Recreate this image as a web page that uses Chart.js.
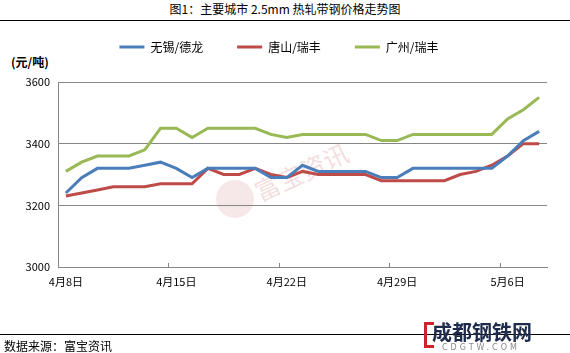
<!DOCTYPE html>
<html>
<head>
<meta charset="utf-8">
<script src="https://cdn.jsdelivr.net/npm/chart.js@4.4.1/dist/chart.umd.min.js"></script>
<style>
body { margin: 0; background: #fff; font-family: "Noto Sans CJK SC", sans-serif; }
#wrap { position: relative; width: 570px; height: 353px; overflow: hidden; background: #fff; }
#chart { position: absolute; left: 0; top: 0; }
.title { position: absolute; left: 0; top: 2px; width: 570px; text-align: center; font-size: 12px; line-height: 14px; color: #000; }
.rule { position: absolute; left: 0; width: 570px; height: 1px; background: #000; }
.unit { position: absolute; left: 11px; top: 54px; font-size: 12px; line-height: 16px; font-weight: bold; color: #000; }
.source { position: absolute; left: 4px; top: 338px; font-size: 12px; line-height: 16px; color: #000; }
.mark-circle { position: absolute; left: 216px; top: 180px; width: 38px; height: 38px; border-radius: 50%; background: rgba(214, 150, 150, 0.22); }
.mark-text { position: absolute; left: 246px; top: 156px; width: 110px; text-align: center; font-size: 25px; line-height: 30px; color: rgba(214, 140, 140, 0.3); transform: rotate(-25deg); }
.logo-bracket { position: absolute; left: 424px; top: 322px; width: 7px; height: 20px; border: 3px solid #d0202a; border-right: none; }
.logo-text { position: absolute; left: 432px; top: 320px; font-size: 20px; line-height: 24px; font-weight: bold; color: #1e2b4a; letter-spacing: 0; }
.logo-sub { position: absolute; left: 442px; top: 343px; font-size: 8px; line-height: 9px; color: #8a8a8a; letter-spacing: 3px; font-family: "DejaVu Sans", sans-serif; }
</style>
</head>
<body>
<div id="wrap">
  <div class="title">图1：主要城市 2.5mm 热轧带钢价格走势图</div>
  <div class="rule" style="top:20px"></div>
  <div class="unit">(元/吨)</div>
  <div class="mark-circle"></div>
  <div class="mark-text">富宝资讯</div>
  <canvas id="chart" width="570" height="353"></canvas>
  <div class="rule" style="top:334px"></div>
  <div class="source">数据来源：富宝资讯</div>
  <div class="logo-bracket"></div>
  <div class="logo-text">成都钢铁网</div>
  <div class="logo-sub">CDGTW.COM</div>
</div>
<script>
var dates = ['4月8日', '4月9日', '4月10日', '4月11日', '4月12日', '4月13日', '4月14日', '4月15日',
    '4月16日', '4月17日', '4月18日', '4月19日', '4月20日', '4月21日', '4月22日', '4月23日',
    '4月24日', '4月25日', '4月26日', '4月27日', '4月28日', '4月29日', '4月30日', '5月1日',
    '5月2日', '5月3日', '5月4日', '5月5日', '5月6日', '5月7日', '5月8日'];
var tickDates = ['4月8日', '4月15日', '4月22日', '4月29日', '5月6日'];

var wuxi = [3240, 3290, 3320, 3320, 3320, 3330, 3340, 3320, 3290, 3320, 3320, 3320, 3320, 3290, 3290, 3330,
    3310, 3310, 3310, 3310, 3290, 3290, 3320, 3320, 3320, 3320, 3320, 3320, 3360, 3410, 3440];
var tangshan = [3230, 3240, 3250, 3260, 3260, 3260, 3270, 3270, 3270, 3320, 3300, 3300, 3320, 3300, 3290, 3310,
    3300, 3300, 3300, 3300, 3280, 3280, 3280, 3280, 3280, 3300, 3310, 3330, 3360, 3400, 3400];
var guangzhou = [3310, 3340, 3360, 3360, 3360, 3380, 3450, 3450, 3420, 3450, 3450, 3450, 3450, 3430, 3420, 3430,
    3430, 3430, 3430, 3430, 3410, 3410, 3430, 3430, 3430, 3430, 3430, 3430, 3480, 3510, 3550];

var yMin = 3000, yMax = 3600, yStep = 200;
var axisGray = '#868686';
var font = "'Noto Sans CJK SC', sans-serif";

// leave room between the legend and the plot
var legendGap = {
    id: 'legendGap',
    beforeInit: function (chart) {
        var legend = chart.legend;
        if (!legend) return;
        var fit = legend.fit;
        legend.fit = function () {
            fit.call(this);
            this.height = 75;
        };
    }
};

// small inner tick marks at each week boundary
var weekTicks = {
    id: 'weekTicks',
    beforeDatasetsDraw: function (chart) {
        var x = chart.scales.x;
        var bottom = chart.chartArea.bottom;
        var ctx = chart.ctx;
        ctx.save();
        ctx.strokeStyle = axisGray;
        ctx.lineWidth = 1;
        dates.forEach(function (d, i) {
            if (i > 0 && tickDates.indexOf(d) !== -1) {
                var px = Math.round((x.getPixelForValue(i - 1) + x.getPixelForValue(i)) / 2) + 0.5;
                ctx.beginPath();
                ctx.moveTo(px, bottom);
                ctx.lineTo(px, bottom - 4);
                ctx.stroke();
            }
        });
        ctx.restore();
    }
};

new Chart(document.getElementById('chart'), {
    type: 'line',
    data: {
        labels: dates,
        datasets: [
            { label: '无锡/德龙', data: wuxi, borderColor: '#4A7EBB', backgroundColor: '#4A7EBB', borderWidth: 3 },
            { label: '唐山/瑞丰', data: tangshan, borderColor: '#BE4B48', backgroundColor: '#BE4B48', borderWidth: 3 },
            { label: '广州/瑞丰', data: guangzhou, borderColor: '#98B954', backgroundColor: '#98B954', borderWidth: 3 }
        ]
    },
    options: {
        responsive: false,
        animation: false,
        layout: { padding: { top: 7, left: 11, right: 23, bottom: 64 } },
        elements: {
            line: { tension: 0 },
            point: { radius: 0, hoverRadius: 0 }
        },
        plugins: {
            legend: {
                position: 'top',
                labels: {
                    usePointStyle: true,
                    pointStyle: 'line',
                    pointStyleWidth: 25,
                    padding: 34,
                    color: '#000',
                    font: { family: font, size: 12 }
                }
            },
            tooltip: { enabled: false }
        },
        scales: {
            x: {
                offset: true,
                grid: { display: false, drawTicks: false, tickLength: 0 },
                border: { display: true, color: axisGray },
                ticks: {
                    autoSkip: false,
                    maxRotation: 0,
                    padding: 8,
                    color: '#000',
                    font: { family: font, size: 11 },
                    callback: function (v, i) {
                        return tickDates.indexOf(dates[i]) !== -1 ? dates[i] : '';
                    }
                },
                afterFit: function (s) { s.height = 22; }
            },
            y: {
                min: yMin,
                max: yMax,
                grid: { color: axisGray, drawTicks: false },
                border: { display: true, color: axisGray },
                ticks: {
                    stepSize: yStep,
                    padding: 8,
                    color: '#000',
                    font: { family: font, size: 11 },
                    callback: function (v) { return String(v); }
                },
                afterFit: function (s) { s.width = 47; }
            }
        }
    },
    plugins: [legendGap, weekTicks]
});
</script>
</body>
</html>
